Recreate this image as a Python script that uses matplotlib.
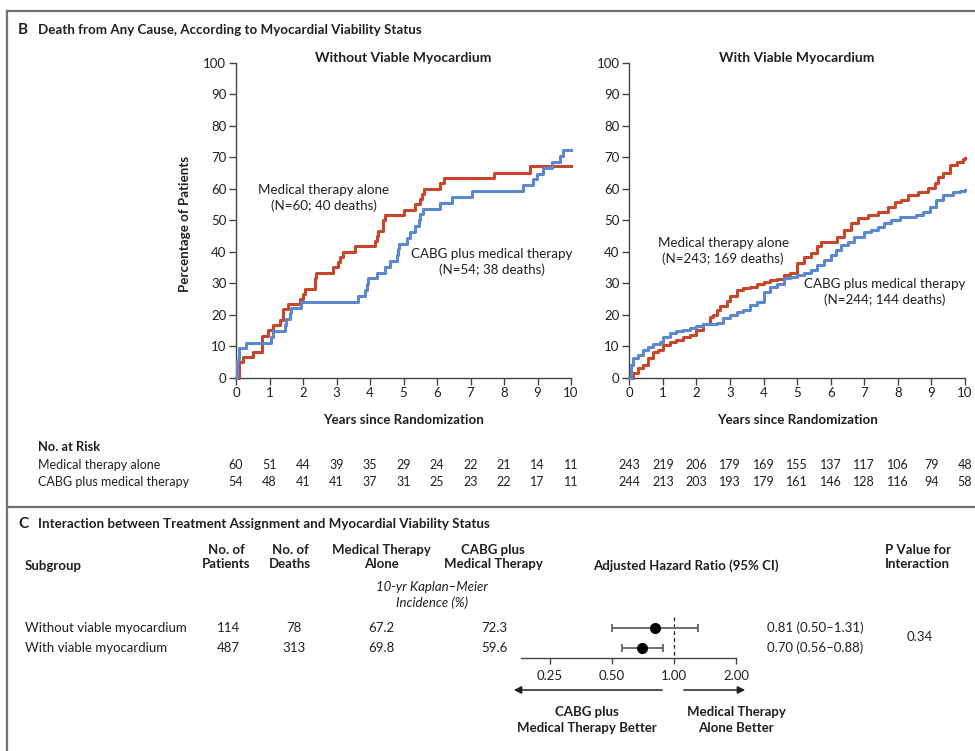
import matplotlib
matplotlib.use('Agg')
import matplotlib.pyplot as plt
import matplotlib.transforms as mtransforms
from matplotlib.lines import Line2D
from matplotlib.patches import FancyArrowPatch

plt.rcParams['font.family'] = ['Lato', 'DejaVu Sans']

# --- data ---
# Without viable myocardium (Kaplan-Meier, % dead)
wo_med_t = [0, 0.1, 0.2, 0.5, 0.77, 0.97, 1.1, 1.3, 1.4, 1.55, 1.9, 2.0, 2.05, 2.35, 2.4,
            2.9, 3.05, 3.1, 3.2, 3.55, 4.15, 4.2, 4.25, 4.4, 4.45, 5.0, 5.35, 5.5, 5.55,
            5.6, 6.1, 6.2, 7.7, 8.78, 10]
wo_med_y = [0, 5.0, 6.7, 8.3, 13.3, 15.0, 16.7, 18.3, 21.7, 23.3, 25.0, 26.7, 28.3, 31.7, 33.3,
            35.0, 36.7, 38.3, 40.0, 41.7, 43.3, 45.0, 46.7, 50.0, 51.7, 53.3, 55.0, 56.7, 58.3,
            60.0, 61.7, 63.3, 65.0, 67.2, 67.2]
wo_cabg_t = [0, 0.03, 0.08, 0.3, 1.05, 1.1, 1.45, 1.5, 1.6, 1.65, 1.95, 3.65, 3.85, 3.9, 3.95,
             4.2, 4.45, 4.6, 4.8, 4.83, 4.87, 5.1, 5.2, 5.35, 5.45, 5.5, 5.57, 6.1, 6.45, 7.05,
             8.58, 8.88, 8.98, 9.17, 9.42, 9.67, 9.77, 10]
wo_cabg_y = [0, 5.6, 9.3, 11.1, 13.0, 14.8, 16.7, 18.5, 20.4, 22.2, 24.1, 25.9, 27.8, 29.6, 31.5,
             33.3, 35.2, 37.0, 38.9, 40.7, 42.6, 44.4, 46.3, 48.1, 50.0, 51.9, 53.7, 55.6, 57.4, 59.3,
             61.1, 63.0, 64.8, 66.7, 68.5, 70.4, 72.3, 72.3]

# With viable myocardium
w_med_t = [0, 0.1, 0.25, 0.4, 0.55, 0.7, 0.85, 1.0, 1.2, 1.4, 1.6, 1.8, 2.0, 2.2, 2.4, 2.5, 2.6,
           2.7, 2.9, 3.0, 3.2, 3.4, 3.6, 3.8, 4.0, 4.2, 4.4, 4.6, 4.8, 5.0, 5.2, 5.4, 5.6, 5.7,
           6.2, 6.4, 6.6, 6.8, 7.1, 7.4, 7.7, 7.9, 8.1, 8.3, 8.6, 8.9, 9.1, 9.2, 9.35, 9.55,
           9.75, 9.95, 10]
w_med_y = [0, 1.4, 3.0, 4.0, 6.1, 8.3, 8.8, 10.4, 11.4, 12.0, 12.8, 13.5, 15.3, 17.2, 19.4, 19.9, 21.5,
           22.8, 24.4, 25.9, 27.8, 28.5, 28.9, 29.7, 30.5, 31.0, 31.2, 32.6, 33.1, 36.3, 38.2, 39.5, 41.8, 43.2,
           44.8, 46.9, 49.0, 50.6, 51.6, 52.7, 54.3, 55.9, 56.4, 58.0, 59.0, 60.1, 61.7, 63.8, 64.9, 67.5,
           68.6, 69.3, 69.8]
w_cabg_t = [0, 0.05, 0.1, 0.25, 0.4, 0.55, 0.7, 0.9, 1.0, 1.2, 1.4, 1.6, 1.8, 2.0, 2.2, 2.4, 2.6,
            2.8, 3.0, 3.2, 3.4, 3.6, 3.8, 4.0, 4.2, 4.4, 4.6, 4.8, 5.0, 5.2, 5.4, 5.6, 5.8, 6.0,
            6.15, 6.3, 6.5, 6.7, 7.0, 7.2, 7.4, 7.6, 7.8, 8.05, 8.55, 8.75, 8.95, 9.15, 9.35,
            9.65, 9.85, 10]
w_cabg_y = [0, 4.0, 6.1, 7.2, 8.8, 9.8, 10.6, 11.4, 12.8, 14.1, 14.8, 15.3, 15.9, 16.4, 16.9, 17.0, 17.5,
            18.8, 19.9, 21.0, 21.5, 23.1, 24.1, 27.3, 28.9, 29.9, 31.5, 32.1, 32.6, 33.1, 34.2, 35.8, 37.4, 38.9,
            40.5, 42.1, 43.2, 44.8, 46.3, 46.9, 47.9, 49.0, 50.0, 51.1, 51.6, 52.7, 54.3, 56.4, 58.0,
            59.0, 59.3, 59.6]

years = list(range(11))
risk_wo_med = [60, 51, 44, 39, 35, 29, 24, 22, 21, 14, 11]
risk_wo_cabg = [54, 48, 41, 41, 37, 31, 25, 23, 22, 17, 11]
risk_w_med = [243, 219, 206, 179, 169, 155, 137, 117, 106, 79, 48]
risk_w_cabg = [244, 213, 203, 193, 179, 161, 146, 128, 116, 94, 58]

# panel C table
subgroups = ['Without viable myocardium', 'With viable myocardium']
n_patients = [114, 487]
n_deaths = [78, 313]
km_med = ['67.2', '69.8']
km_cabg = ['72.3', '59.6']
hr = [0.81, 0.70]
hr_lo = [0.50, 0.56]
hr_hi = [1.31, 0.88]
p_interaction = '0.34'

RED = '#C8462C'
BLUE = '#5B88CF'
DARK = '#231F20'
BORDER = '#707070'

W, H = 975, 751
fig = plt.figure(figsize=(W / 100, H / 100), dpi=100)


def fx(x):
    return x / W


def fy(y):
    return 1 - y / H


def text(x, y, s, **kw):
    kw.setdefault('color', DARK)
    fig.text(fx(x), fy(y), s, **kw)


# frame lines
for xs, ys in [([7, 7], [11, 751]), ([7, 975], [11, 11]), ([7, 975], [507, 507])]:
    fig.add_artist(Line2D([fx(v) for v in xs], [fy(v) for v in ys],
                          transform=fig.transFigure, color=BORDER, lw=1.6))

text(18, 30, 'B', fontsize=11, fontweight='bold', va='center')
text(38, 30, 'Death from Any Cause, According to Myocardial Viability Status',
     fontsize=9.6, fontweight='bold', va='center')

# --- KM panels ---
panels = [
    (236, 571, 'Without Viable Myocardium', wo_med_t, wo_med_y, wo_cabg_t, wo_cabg_y,
     risk_wo_med, risk_wo_cabg),
    (629.3, 965, 'With Viable Myocardium', w_med_t, w_med_y, w_cabg_t, w_cabg_y,
     risk_w_med, risk_w_cabg),
]
axes = []
for x0, x1, title, mt, my, ct, cy, rm, rc in panels:
    ax = fig.add_axes([fx(x0), fy(377.7), (x1 - x0) / W, 315 / H])
    ax.step(mt, my, where='post', color=RED, lw=2.2, clip_on=False, zorder=3)
    ax.step(ct, cy, where='post', color=BLUE, lw=2.2, clip_on=False, zorder=3)
    ax.set_xlim(0, 10)
    ax.set_ylim(0, 100)
    ax.set_xticks(years)
    ax.set_yticks(range(0, 101, 10))
    for s in ['top', 'right']:
        ax.spines[s].set_visible(False)
    for s in ['left', 'bottom']:
        ax.spines[s].set_color('#444444')
        ax.spines[s].set_linewidth(1.0)
    ax.tick_params(labelsize=9.5, length=5, width=1.0, color='#444444', labelcolor=DARK, pad=2)
    ax.patch.set_alpha(0)
    cx = (x0 + x1) / 2
    text(cx, 58, title, fontsize=10, fontweight='bold', ha='center', va='center')
    text(cx, 420, 'Years since Randomization', fontsize=9.6, fontweight='bold',
         ha='center', va='center')
    trans = mtransforms.blended_transform_factory(ax.transData, fig.transFigure)
    for yr, a, b in zip(years, rm, rc):
        ax.text(yr, fy(465), str(a), transform=trans, ha='center', va='center',
                fontsize=9, color=DARK, clip_on=False)
        ax.text(yr, fy(482), str(b), transform=trans, ha='center', va='center',
                fontsize=9, color=DARK, clip_on=False)
    axes.append(ax)

text(185, 224, 'Percentage of Patients', fontsize=9.6, fontweight='bold', rotation=90,
     ha='center', va='center')

# curve labels
text(324, 198, 'Medical therapy alone\n(N=60; 40 deaths)', fontsize=9.6, ha='center',
     va='center', linespacing=1.35)
text(492, 262, 'CABG plus medical therapy\n(N=54; 38 deaths)', fontsize=9.6, ha='center',
     va='center', linespacing=1.35)
text(723, 251, 'Medical therapy alone\n(N=243; 169 deaths)', fontsize=9.6, ha='center',
     va='center', linespacing=1.35)
text(885, 292, 'CABG plus medical therapy\n(N=244; 144 deaths)', fontsize=9.6, ha='center',
     va='center', linespacing=1.35)

# number at risk labels
text(38, 447, 'No. at Risk', fontsize=9.3, fontweight='bold', va='center')
text(38, 465, 'Medical therapy alone', fontsize=9, va='center')
text(38, 482, 'CABG plus medical therapy', fontsize=9, va='center')

# --- panel C ---
text(18, 524, 'C', fontsize=11, fontweight='bold', va='center')
text(38, 524, 'Interaction between Treatment Assignment and Myocardial Viability Status',
     fontsize=9.6, fontweight='bold', va='center')

hdr = dict(fontsize=9.5, fontweight='bold', va='center', linespacing=1.3)
text(25, 566, 'Subgroup', **hdr)
text(226, 557, 'No. of\nPatients', ha='center', **hdr)
text(290, 557, 'No. of\nDeaths', ha='center', **hdr)
text(381, 557, 'Medical Therapy\nAlone', ha='center', **hdr)
text(493, 557, 'CABG plus\nMedical Therapy', ha='center', **hdr)
text(686, 566, 'Adjusted Hazard Ratio (95% CI)', ha='center', **hdr)
text(885, 557, 'P Value for\nInteraction', ha='left', **hdr)
text(432, 595, '10-yr Kaplan\u2013Meier\nIncidence (%)', fontsize=9.5, style='italic',
     ha='center', va='center', linespacing=1.3)

row_y = [628, 648]
for i, yy in enumerate(row_y):
    text(25, yy, subgroups[i], fontsize=9.5, va='center')
    text(228, yy, str(n_patients[i]), fontsize=9.5, ha='center', va='center')
    text(294, yy, str(n_deaths[i]), fontsize=9.5, ha='center', va='center')
    text(381, yy, km_med[i], fontsize=9.5, ha='center', va='center')
    text(494, yy, km_cabg[i], fontsize=9.5, ha='center', va='center')
    text(767, yy, f'{hr[i]:.2f} ({hr_lo[i]:.2f}\u2013{hr_hi[i]:.2f})', fontsize=9.5,
         va='center')
text(920, 637, p_interaction, fontsize=9.5, ha='center', va='center')

# forest plot
fax = fig.add_axes([fx(521), fy(657.7), (736 - 521) / W, (657.7 - 612) / H])
fax.set_xscale('log')
fax.set_xlim(0.1807, 2.0)
fax.set_ylim(1.485, -0.8)
rows = [0, 1]
xerr = [[h - lo for h, lo in zip(hr, hr_lo)], [hi - h for h, hi in zip(hr, hr_hi)]]
fax.errorbar(hr, rows, xerr=xerr, fmt='o', color='black', ms=7, ecolor='#6d6d6d',
             elinewidth=1.4, capsize=3.2, capthick=1.4, zorder=3)
fax.vlines(1.0, -0.55, 1.485, colors=DARK, linestyles=(0, (3, 2.5)), lw=0.9)
fax.set_xticks([0.25, 0.5, 1.0, 2.0])
fax.set_xticklabels(['0.25', '0.50', '1.00', '2.00'])
fax.minorticks_off()
fax.set_yticks([])
for s in ['top', 'right', 'left']:
    fax.spines[s].set_visible(False)
fax.spines['bottom'].set_color('#444444')
fax.spines['bottom'].set_linewidth(1.0)
fax.tick_params(axis='x', which='both', labelsize=9.5, length=4, width=1.0, color='#444444',
                labelcolor=DARK, pad=5)
fax.patch.set_alpha(0)

for a, b in [((665, 690), (511, 690)), ((681, 690), (748, 690))]:
    fig.add_artist(FancyArrowPatch((fx(a[0]), fy(a[1])), (fx(b[0]), fy(b[1])),
                                   transform=fig.transFigure, arrowstyle='-|>',
                                   mutation_scale=11, color=DARK, lw=1.1))

text(587, 720, 'CABG plus\nMedical Therapy Better', fontsize=9.5, fontweight='bold',
     ha='center', va='center', linespacing=1.3)
text(736, 720, 'Medical Therapy\nAlone Better', fontsize=9.5, fontweight='bold',
     ha='center', va='center', linespacing=1.3)

fig.savefig('out.png', dpi=100)
